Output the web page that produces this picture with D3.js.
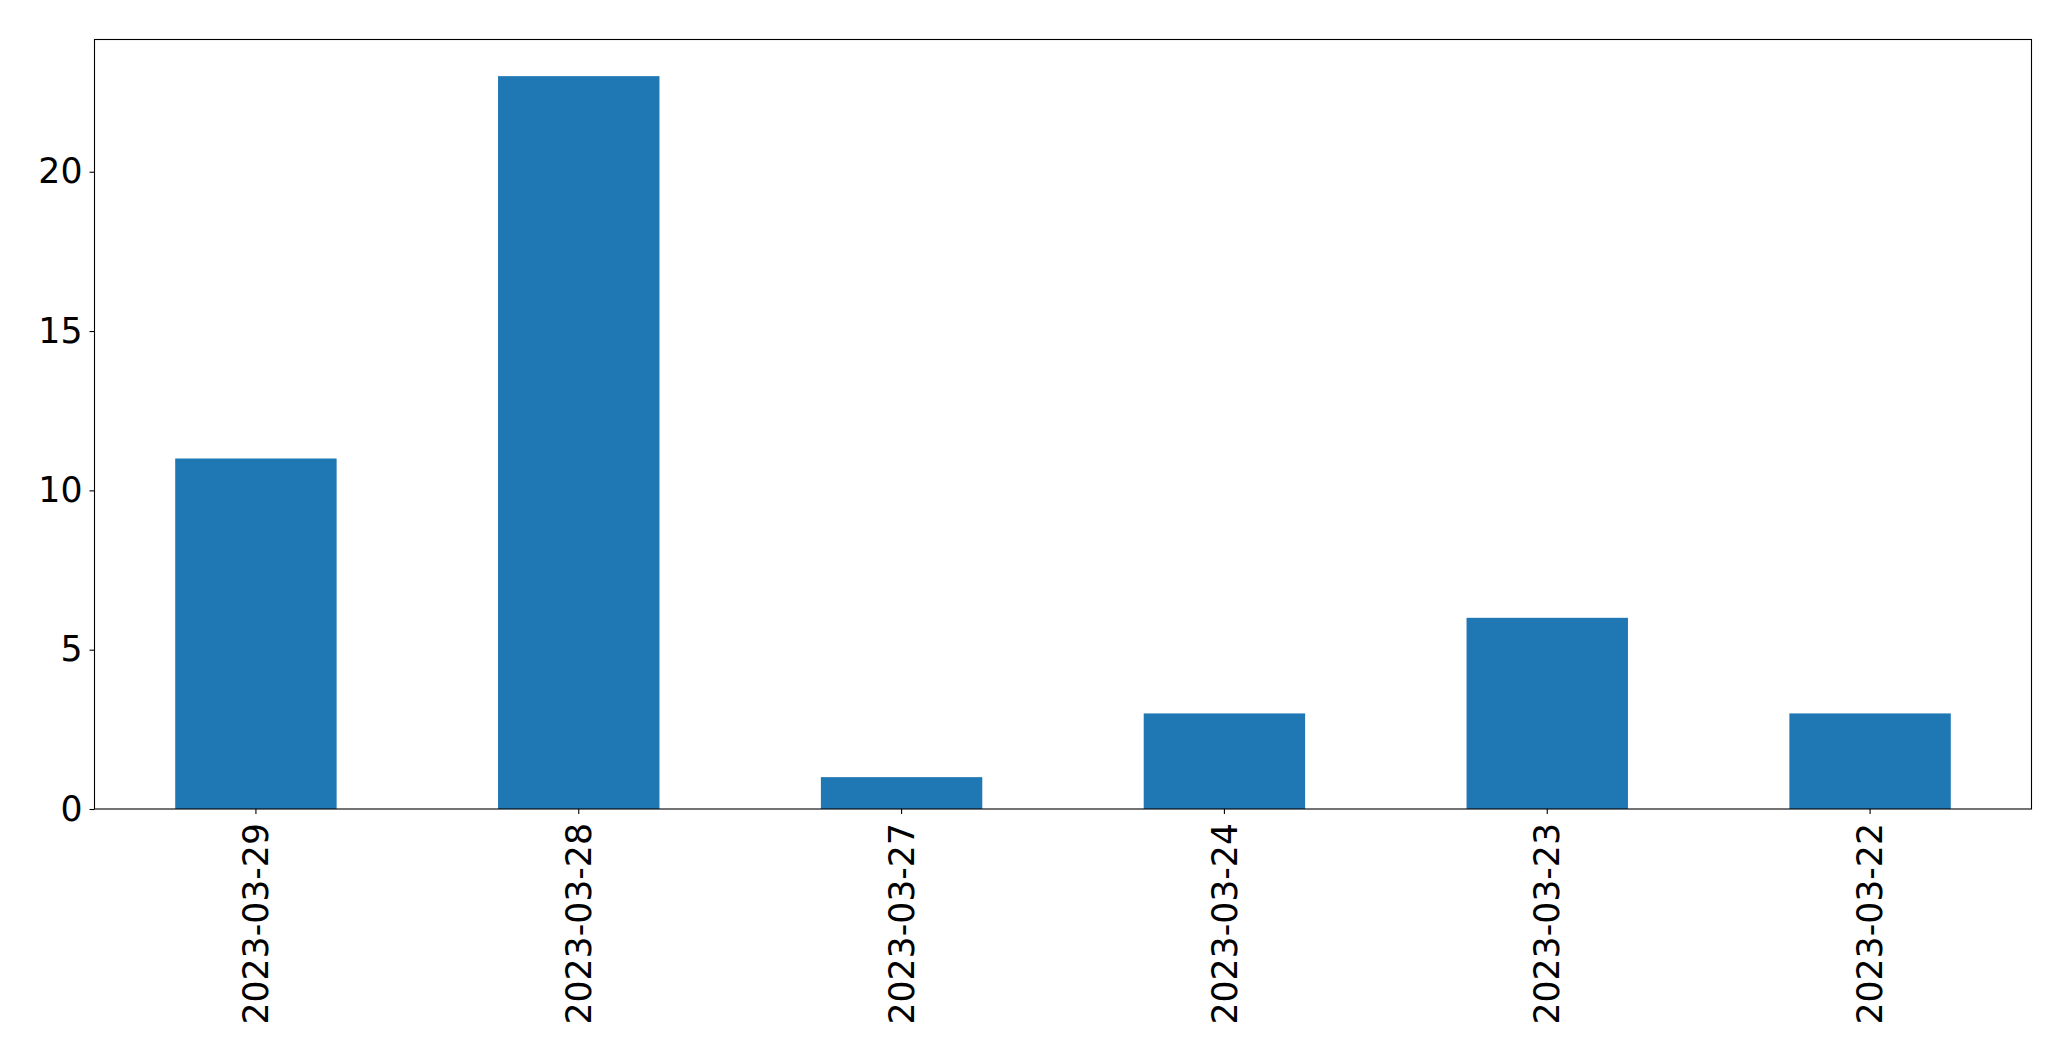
<!DOCTYPE html>
<html><head><meta charset="utf-8">
<script src="https://cdn.jsdelivr.net/npm/d3@7"></script>
<style>html,body{margin:0;padding:0;background:#fff;} svg{display:block;}</style>
</head><body>
<script>
const categories = ["2023-03-29","2023-03-28","2023-03-27","2023-03-24","2023-03-23","2023-03-22"];
const values = [11, 23, 1, 3, 6, 3];
const yTicks = [0, 5, 10, 15, 20];

const W = 2071, H = 1061;
const m = {left: 94.5, right: 2031.5, top: 39.5, bottom: 809};
const fontSize = 34.7;
const svg = d3.select("body").append("svg").attr("width", W).attr("height", H);

const x = d3.scaleBand().domain(categories).range([m.left, m.right]).paddingInner(0.5).paddingOuter(0.25);
const yMax = d3.max(values) * 1.05;
const y = d3.scaleLinear().domain([0, yMax]).range([m.bottom, m.top]);

svg.append("g").selectAll("rect").data(values).join("rect")
  .attr("x", (d, i) => x(categories[i]))
  .attr("width", x.bandwidth())
  .attr("y", d => y(d))
  .attr("height", d => y(0) - y(d))
  .attr("fill", "#1f77b4");

const yAxis = d3.axisLeft(y).tickValues(yTicks).tickSize(5).tickPadding(7);
const gy = svg.append("g").attr("transform", `translate(${m.left},0)`).call(yAxis);
gy.select(".domain").remove();
gy.selectAll("line").attr("stroke", "#000").attr("stroke-width", 1.1);
gy.selectAll("text").attr("font-family", "DejaVu Sans").attr("font-size", fontSize).attr("fill", "#000");

const xAxis = d3.axisBottom(x).tickSize(5).tickPadding(0);
const gx = svg.append("g").attr("transform", `translate(0,${m.bottom})`).call(xAxis);
gx.select(".domain").remove();
gx.selectAll("line").attr("stroke", "#000").attr("stroke-width", 1.1);
gx.selectAll("text")
  .attr("font-family", "DejaVu Sans").attr("font-size", fontSize).attr("fill", "#000")
  .attr("transform", "rotate(-90)")
  .attr("text-anchor", "end")
  .attr("x", -14).attr("y", 0).attr("dy", "0.35em");

svg.append("rect").attr("x", m.left).attr("y", m.top)
  .attr("width", m.right - m.left).attr("height", m.bottom - m.top)
  .attr("fill", "none").attr("stroke", "#000").attr("stroke-width", 1.1);
</script>
</body></html>
